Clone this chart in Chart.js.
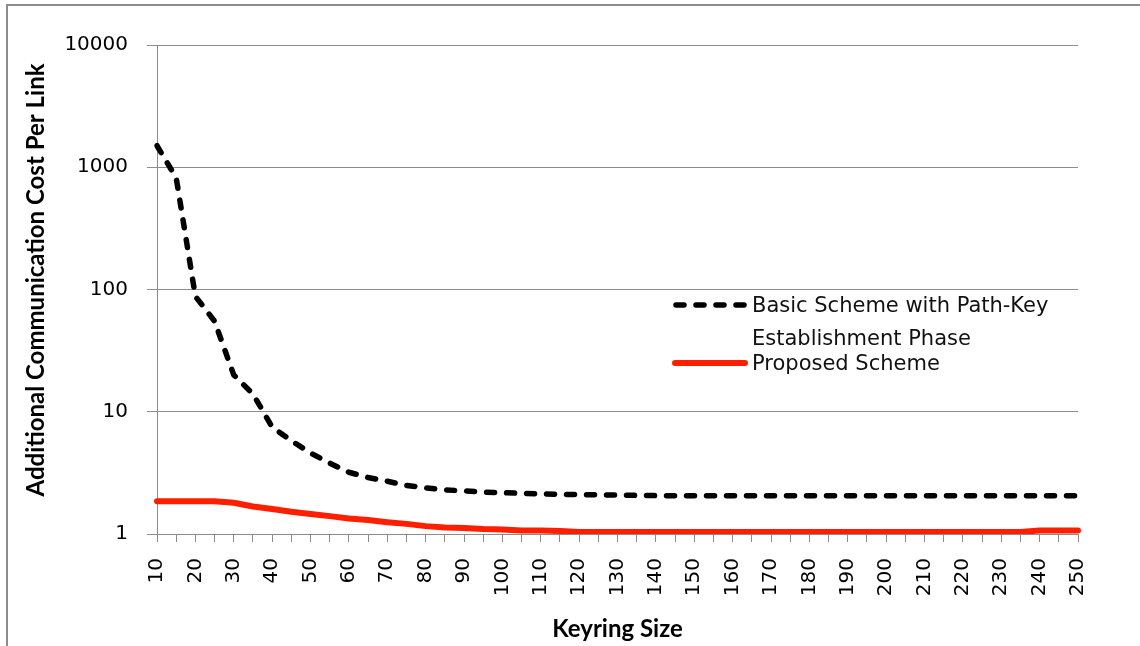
<!DOCTYPE html>
<html>
<head>
<meta charset="utf-8">
<script src="https://cdn.jsdelivr.net/npm/chart.js@4/dist/chart.umd.min.js"></script>
<style>
html,body{margin:0;padding:0;background:#fff;}
#wrap{position:relative;width:1140px;height:646px;overflow:hidden;background:#fff;}
#frame{position:absolute;left:6px;top:4px;width:1200px;height:700px;border-top:2px solid #8c8c8c;border-left:2px solid #8c8c8c;}
#c{position:absolute;left:0;top:0;}
</style>
</head>
<body>
<div id="wrap">
<div id="frame"></div>
<canvas id="c" width="1140" height="646"></canvas>
</div>
<script>
const keyringSizes = [10,15,20,25,30,35,40,45,50,55,60,65,70,75,80,85,90,95,100,105,110,115,120,125,130,135,140,145,150,155,160,165,170,175,180,185,190,195,200,205,210,215,220,225,230,235,240,245,250];
const basicScheme = [1500,820,88,55,20,14,7.5,5.8,4.6,3.8,3.2,2.9,2.7,2.5,2.38,2.3,2.25,2.2,2.18,2.15,2.13,2.11,2.1,2.09,2.08,2.07,
  2.06,2.06,2.06,2.06,2.06,2.06,2.06,2.06,2.06,2.06,2.06,2.06,2.06,2.06,2.06,2.06,2.06,2.06,2.06,2.06,2.06,2.06,2.06];
const proposedScheme = [1.85,1.85,1.85,1.85,1.8,1.68,1.6,1.52,1.46,1.4,1.34,1.3,1.25,1.21,1.16,1.13,1.12,1.1,1.09,1.07,1.07,1.06,
  1.04,1.04,1.04,1.04,1.04,1.04,1.04,1.04,1.04,1.04,1.04,1.04,1.04,1.04,1.04,1.04,1.04,1.04,1.04,1.04,1.04,1.04,1.04,1.04,1.07,1.07,1.07];
const yTickValues = [1,10,100,1000,10000];
const seriesNames = ['Basic Scheme with Path-Key', 'Establishment Phase', 'Proposed Scheme'];
const xTitle = 'Keyring Size';
const yTitle = 'Additional Communication Cost Per Link';

const GRID = '#8c8c8c';
const tickFont = {family: '"DejaVu Sans"', size: 20};
const titleFont = {family: 'Lato', size: 24, weight: 'bold'};

const legendPlugin = {
  id: 'customLegend',
  afterDraw(chart) {
    const ctx = chart.ctx;
    ctx.save();
    ctx.lineCap = 'round';
    ctx.strokeStyle = '#000';
    ctx.lineWidth = 5.5;
    ctx.setLineDash([8,12]);
    ctx.beginPath(); ctx.moveTo(676,305); ctx.lineTo(744,305); ctx.stroke();
    ctx.setLineDash([]);
    ctx.strokeStyle = '#ff1f00';
    ctx.lineWidth = 6;
    ctx.beginPath(); ctx.moveTo(675,363); ctx.lineTo(745,363); ctx.stroke();
    ctx.fillStyle = '#111';
    ctx.font = '21px "DejaVu Sans"';
    ctx.textBaseline = 'alphabetic';
    ctx.textAlign = 'left';
    ctx.fillText(seriesNames[0], 752, 312);
    ctx.fillText(seriesNames[1], 752, 345);
    ctx.fillText(seriesNames[2], 752, 370);
    // y axis title
    ctx.translate(36, 280);
    ctx.rotate(-Math.PI / 2);
    ctx.font = 'bold 24px Lato';
    ctx.fillStyle = '#000';
    ctx.textAlign = 'center';
    ctx.textBaseline = 'middle';
    ctx.fillText(yTitle, 0, 0);
    ctx.restore();
  }
};

new Chart(document.getElementById('c'), {
  type: 'line',
  data: {
    labels: keyringSizes.map(String),
    datasets: [
      {label: seriesNames[0] + ' ' + seriesNames[1], data: basicScheme, borderColor: '#000', borderWidth: 5.5,
       borderDash: [8,12], borderCapStyle: 'round', borderJoinStyle: 'round', pointRadius: 0, tension: 0, fill: false},
      {label: seriesNames[2], data: proposedScheme, borderColor: '#ff1f00', borderWidth: 6,
       borderCapStyle: 'round', borderJoinStyle: 'round', pointRadius: 0, tension: 0, fill: false}
    ]
  },
  options: {
    responsive: false,
    animation: false,
    devicePixelRatio: 1,
    layout: {padding: {left: 10, right: 62, top: 45, bottom: 0}},
    plugins: {legend: {display: false}, tooltip: {enabled: false}},
    scales: {
      x: {
        type: 'category',
        offset: false,
        grid: {drawOnChartArea: false, drawTicks: true, tickLength: 8, color: GRID, lineWidth: 1},
        border: {color: GRID, width: 1},
        ticks: {autoSkip: false, maxRotation: 90, minRotation: 90, padding: 16, color: '#000', font: tickFont,
          callback: (v, i) => (keyringSizes[i] % 10 === 0 ? String(keyringSizes[i]) : '')},
        title: {display: true, text: xTitle, color: '#000', font: titleFont, padding: {top: 0, bottom: 2}},
        afterFit: (s) => { s.height = 646 - 534; }
      },
      y: {
        type: 'logarithmic',
        min: 1, max: 10000,
        afterBuildTicks: (s) => { s.ticks = yTickValues.map(v => ({value: v})); },
        grid: {color: GRID, lineWidth: 1, tickLength: 10, drawTicks: true},
        border: {color: GRID, width: 1},
        ticks: {padding: 19, color: '#000', font: tickFont, callback: (v) => String(v)},
        afterFit: (s) => { s.width = 157 - 10; }
      }
    }
  },
  plugins: [legendPlugin]
});
</script>
</body>
</html>
